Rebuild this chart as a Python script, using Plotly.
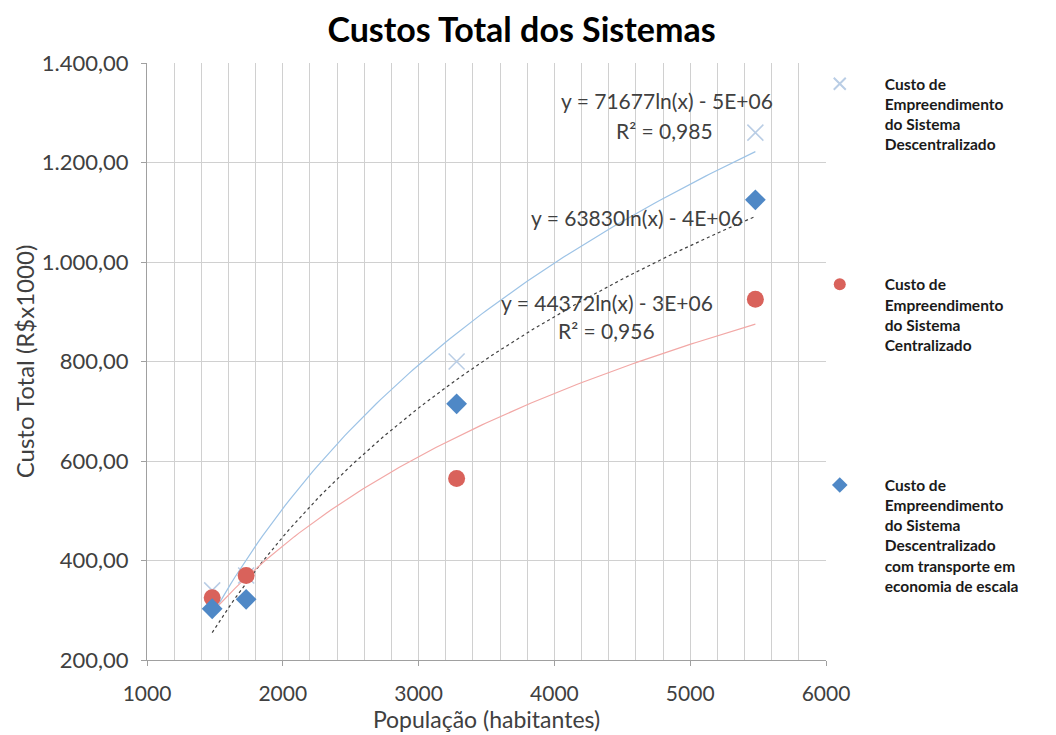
import numpy as np
import plotly.graph_objects as go

# Data
populacao = [1480, 1730, 3280, 5480]
custo_descentralizado = [340, 370, 800, 1260]
custo_centralizado = [325, 370, 565, 925]
custo_desc_transporte = [303, 322, 715, 1125]

nomes = [
    "Custo de<br>Empreendimento<br>do Sistema<br>Descentralizado",
    "Custo de<br>Empreendimento<br>do Sistema<br>Centralizado",
    "Custo de<br>Empreendimento<br>do Sistema<br>Descentralizado<br>com transporte em<br>economia de escala",
]

eq_textos = ["y = 71677ln(x) - 5E+06", "y = 63830ln(x) - 4E+06", "y = 44372ln(x) - 3E+06"]
r2_textos = ["R² = 0,985", "R² = 0,956"]

FONT = "Lato, 'Open Sans', sans-serif"


def log_fit(x, y):
    lx = np.log(np.array(x, dtype=float))
    a, b = np.polyfit(lx, np.array(y, dtype=float), 1)
    xs = np.linspace(min(x), max(x), 120)
    return xs, a * np.log(xs) + b


fig = go.Figure()

# Trendlines
for ys, color, dash in [
    (custo_descentralizado, "#9DC3E6", "solid"),
    (custo_desc_transporte, "#404040", "dot"),
    (custo_centralizado, "#F2A8A6", "solid"),
]:
    xs, yf = log_fit(populacao, ys)
    fig.add_trace(go.Scatter(x=xs, y=yf, mode="lines", showlegend=False,
                             line=dict(color=color, width=1.2, dash=dash), hoverinfo="skip"))

fig.add_trace(go.Scatter(x=populacao, y=custo_descentralizado, mode="markers", name=nomes[0],
                         legendgroup="a",
                         marker=dict(symbol="x-thin", size=16, line=dict(color="#B9CDE5", width=1.5), color="#B9CDE5")))
fig.add_trace(go.Scatter(x=populacao, y=custo_centralizado, mode="markers", name=nomes[1],
                         legendgroup="b",
                         marker=dict(symbol="circle", size=17, color="#D9625B")))
fig.add_trace(go.Scatter(x=populacao, y=custo_desc_transporte, mode="markers", name=nomes[2],
                         legendgroup="c",
                         marker=dict(symbol="diamond", size=16, color="#4F88C6")))

ann_font = dict(family=FONT, size=21, color="#404040")
annots = [
    dict(x=5624, y=1324, text=eq_textos[0]),
    dict(x=5183, y=1265, text=r2_textos[0]),
    dict(x=5404, y=1090, text=eq_textos[1]),
    dict(x=5183, y=918, text=eq_textos[2]),
    dict(x=4756, y=863, text=r2_textos[1]),
]
for a in annots:
    fig.add_annotation(x=a["x"], y=a["y"], text=a["text"], showarrow=False,
                       xanchor="right", yanchor="middle", font=ann_font)

grid_color = "#D0D0D0"
axis_color = "#A0A0A0"
fig.update_layout(
    width=1048, height=727,
    paper_bgcolor="white", plot_bgcolor="white",
    margin=dict(l=139, r=230, t=55, b=75),
    separators=",.",
    title=dict(text="<b>Custos Total dos Sistemas</b>", x=0.49, xanchor="center",
               y=0.970, yanchor="middle", font=dict(family=FONT, size=34, color="#000000")),
    font=dict(family=FONT, color="#404040"),
    showlegend=True,
    legend=dict(x=0.954, xanchor="left", y=0.993, yanchor="top",
                font=dict(family=FONT, size=15.5, color="#1A1A1A", weight="bold"),
                tracegroupgap=117, valign="top", bgcolor="rgba(0,0,0,0)",
                itemwidth=80, itemsizing="constant"),
    xaxis=dict(range=[1000, 6000], dtick=1000, tick0=1000, tickformat="d",
               showgrid=True, gridcolor=grid_color, gridwidth=1,
               minor=dict(dtick=200, showgrid=True, gridcolor=grid_color, gridwidth=1),
               showline=True, linecolor=axis_color, ticks="outside", ticklen=5, tickcolor=axis_color,
               ticklabelstandoff=10,
               tickfont=dict(family=FONT, size=21, color="#404040"),
               title=dict(text="População (habitantes)", font=dict(family=FONT, size=23, color="#404040"),
                          standoff=4),
               automargin=False, zeroline=False, mirror=False),
    yaxis=dict(range=[200, 1400], dtick=200, tick0=200, tickformat=",.2f",
               showgrid=True, gridcolor=grid_color, gridwidth=1,
               showline=True, linecolor=axis_color, ticks="outside", ticklen=5, tickcolor=axis_color,
               ticklabelstandoff=8,
               tickfont=dict(family=FONT, size=22, color="#404040"),
               title=dict(text="Custo Total (R$x1000)", font=dict(family=FONT, size=24, color="#404040"),
                          standoff=0),
               automargin=False, zeroline=False),
)

fig.write_html("out.html")
